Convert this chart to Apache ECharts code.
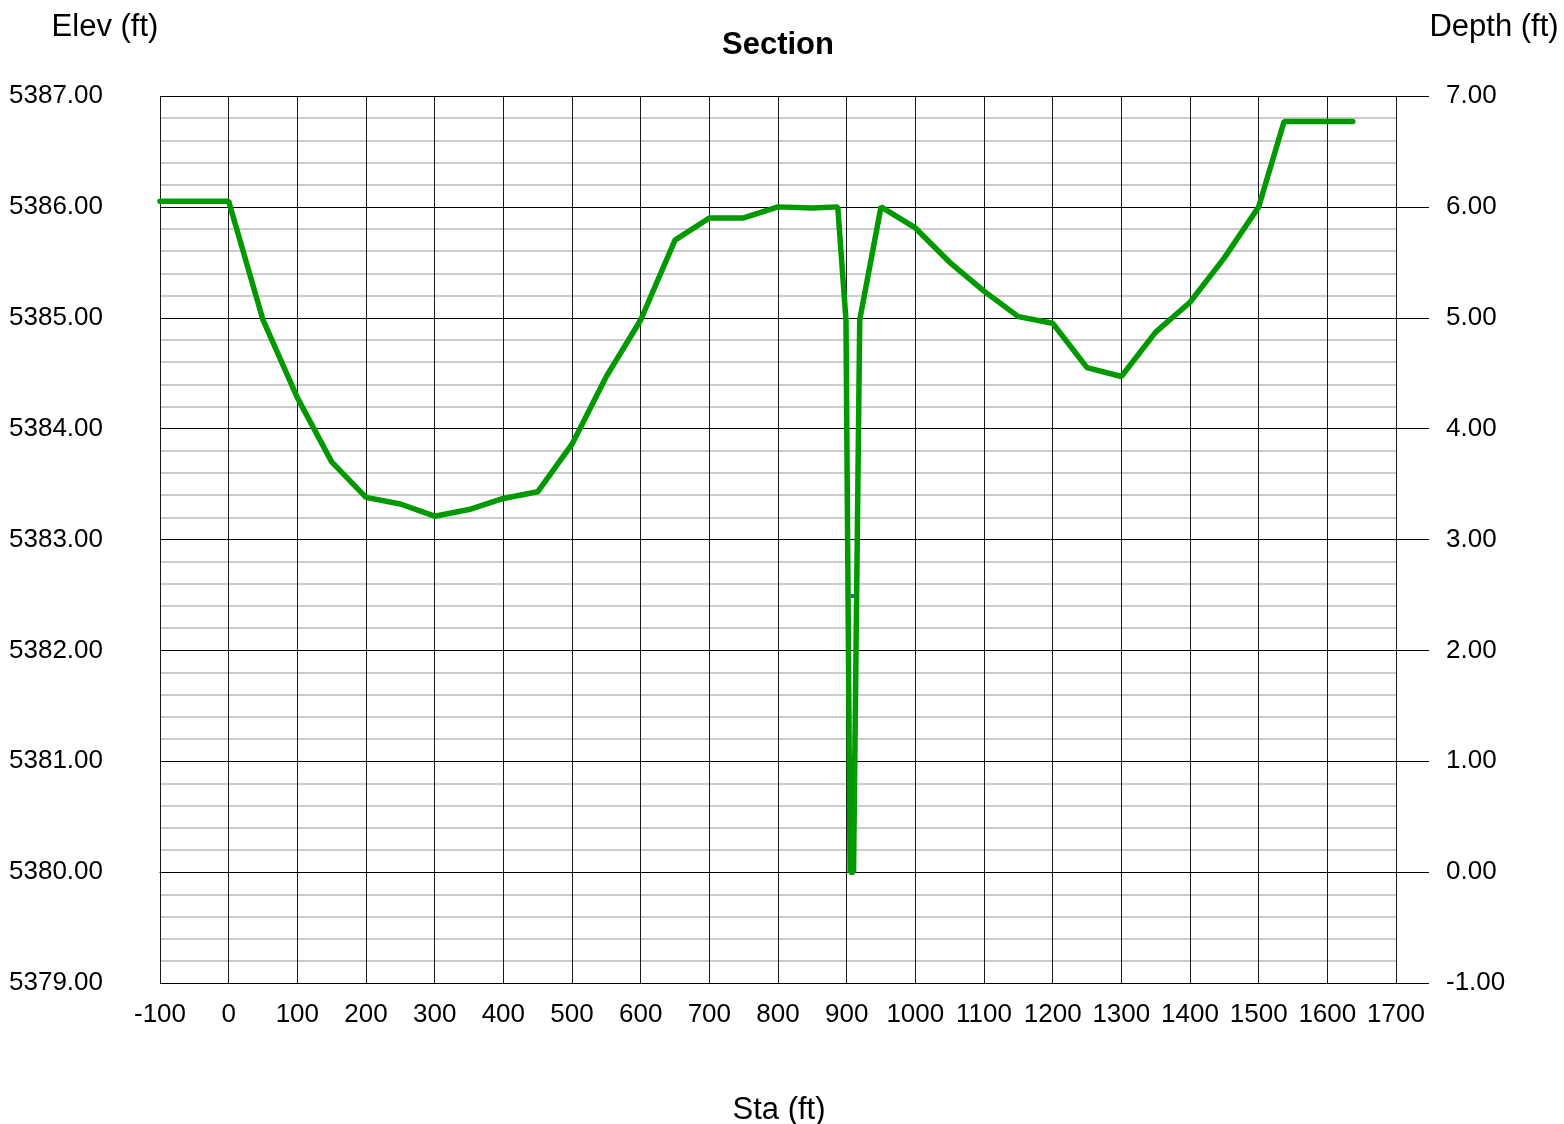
<!DOCTYPE html>
<html>
<head>
<meta charset="utf-8">
<script src="https://cdn.jsdelivr.net/npm/echarts@6/dist/echarts.min.js"></script>
<style>
html,body{margin:0;padding:0;background:#fff;}
#chart{width:1564px;height:1124px;}
</style>
</head>
<body>
<div id="chart"></div>
<script>
var staTicks = [-100, 1700, 100];
var elevRange = [5379, 5387, 1];
var depthRange = [-1, 7, 1];
var sta = [-100, 0, 50, 100, 150, 200, 250, 300, 350, 400, 450, 500, 550, 600, 650, 700, 750, 800, 850, 887, 899, 905, 910, 919, 950, 1000, 1050, 1100, 1150, 1200, 1250, 1300, 1350, 1400, 1450, 1500, 1537, 1637];
var elev = [5386.05, 5386.05, 5384.98, 5384.28, 5383.70, 5383.38, 5383.32, 5383.21, 5383.27, 5383.37, 5383.43, 5383.86, 5384.47, 5384.98, 5385.70, 5385.90, 5385.90, 5386.00, 5385.99, 5386.00, 5384.98, 5380.00, 5380.00, 5384.98, 5386.00, 5385.81, 5385.50, 5385.24, 5385.01, 5384.95, 5384.55, 5384.47, 5384.87, 5385.14, 5385.54, 5386.00, 5386.77, 5386.77];
var wsSta = [906, 911];
var wsElev = [5382.49, 5382.49];

var FONT = "'Liberation Sans', Arial, sans-serif";
var chart = echarts.init(document.getElementById('chart'));
var groundData = sta.map(function (s, i) { return [s, elev[i]]; });
var wsData = wsSta.map(function (s, i) { return [s, wsElev[i]]; });

chart.setOption({
  animation: false,
  backgroundColor: '#fff',
  textStyle: { fontFamily: FONT },
  grid: { left: 160, right: 168, top: 96, bottom: 141, containLabel: false },
  graphic: [
    { type: 'text', x: 778, y: 45, style: { text: 'Section', font: 'bold 31px ' + FONT, fill: '#000', align: 'center', verticalAlign: 'middle' } },
    { type: 'text', x: 105, y: 27, style: { text: 'Elev (ft)', font: '31px ' + FONT, fill: '#000', align: 'center', verticalAlign: 'middle' } },
    { type: 'text', x: 1494, y: 27, style: { text: 'Depth (ft)', font: '31px ' + FONT, fill: '#000', align: 'center', verticalAlign: 'middle' } },
    { type: 'text', x: 779, y: 1110, style: { text: 'Sta (ft)', font: '31px ' + FONT, fill: '#000', align: 'center', verticalAlign: 'middle' } }
  ],
  xAxis: {
    type: 'value',
    min: staTicks[0], max: staTicks[1], interval: staTicks[2],
    axisLine: { show: true, lineStyle: { color: '#000', width: 1 } },
    axisTick: { show: false },
    axisLabel: { color: '#000', fontSize: 26, fontFamily: FONT, margin: 19, formatter: function (v) { return String(v); } },
    splitLine: { show: true, lineStyle: { color: '#1a1a1a', width: 1 } }
  },
  yAxis: [
    {
      type: 'value',
      min: elevRange[0], max: elevRange[1], interval: elevRange[2],
      axisLine: { show: false },
      axisTick: { show: true, length: 33, lineStyle: { color: '#000', width: 1 } },
      axisLabel: { color: '#000', fontSize: 26, fontFamily: FONT, margin: 57, padding: [4, 0, 0, 0], formatter: function (v) { return v.toFixed(2); } },
      splitLine: { show: true, lineStyle: { color: '#000', width: 1 } },
      minorTick: { show: false, splitNumber: 5 },
      minorSplitLine: { show: true, lineStyle: { color: '#cccccc', width: 2 } }
    },
    {
      type: 'value',
      position: 'right',
      min: depthRange[0], max: depthRange[1], interval: depthRange[2],
      axisLine: { show: false },
      axisTick: { show: true, length: 33, lineStyle: { color: '#000', width: 1 } },
      axisLabel: { color: '#000', fontSize: 26, fontFamily: FONT, margin: 50, padding: [4, 0, 0, 0], formatter: function (v) { return v.toFixed(2); } },
      splitLine: { show: false }
    }
  ],
  series: [
    {
      type: 'line', yAxisIndex: 0, data: wsData, symbol: 'none', silent: true,
      lineStyle: { color: '#1f5fd6', width: 4 }, z: 2
    },
    {
      type: 'line', yAxisIndex: 0, data: groundData, symbol: 'none', silent: true,
      lineStyle: { color: '#009900', width: 5.5, cap: 'round' }, z: 3
    }
  ]
});
</script>
</body>
</html>
